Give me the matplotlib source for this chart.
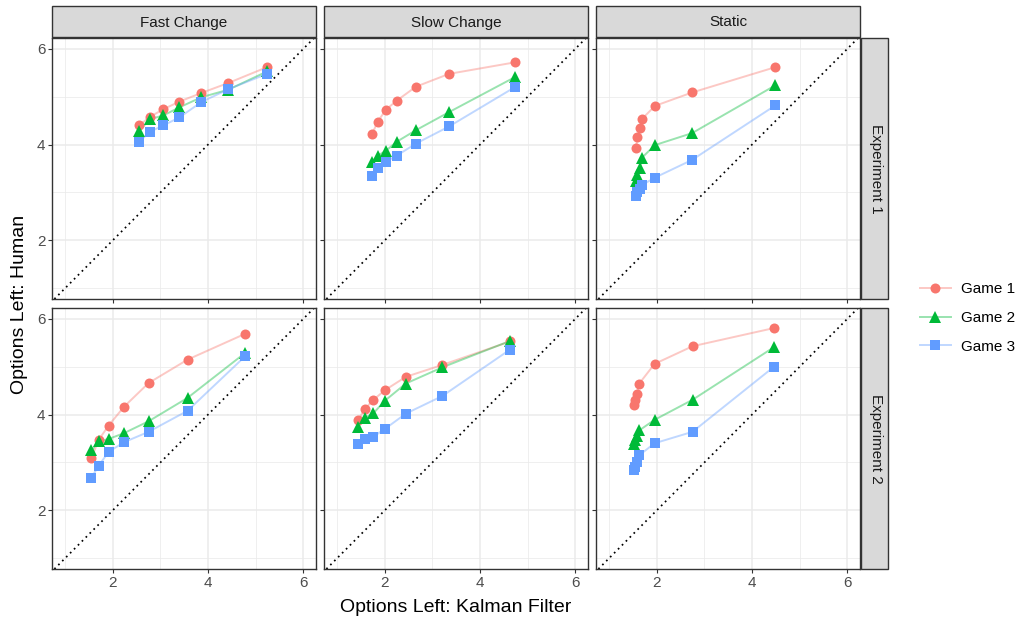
import matplotlib
matplotlib.use("Agg")
import matplotlib.pyplot as plt
from matplotlib.lines import Line2D
from matplotlib.patches import Rectangle

plt.rcParams['font.family'] = ['Liberation Sans', 'DejaVu Sans']

# ---------------- data ----------------
conditions = ["Fast Change", "Slow Change", "Static"]
experiments = ["Experiment 1", "Experiment 2"]
games = ["Game 1", "Game 2", "Game 3"]

fast_exp1_x = [2.55, 2.78, 3.06, 3.40, 3.86, 4.43, 5.24]
fast_exp1_g1 = [4.40, 4.58, 4.74, 4.90, 5.08, 5.29, 5.62]
fast_exp1_g2 = [4.29, 4.53, 4.61, 4.78, 4.99, 5.15, 5.53]
fast_exp1_g3 = [4.06, 4.27, 4.40, 4.57, 4.89, 5.16, 5.48]

slow_exp1_x = [1.73, 1.85, 2.02, 2.25, 2.65, 3.35, 4.73]
slow_exp1_g1 = [4.22, 4.48, 4.73, 4.92, 5.21, 5.48, 5.72]
slow_exp1_g2 = [3.64, 3.77, 3.87, 4.06, 4.30, 4.68, 5.41]
slow_exp1_g3 = [3.35, 3.52, 3.64, 3.77, 4.02, 4.38, 5.20]

static_exp1_x = [1.56, 1.59, 1.65, 1.68, 1.96, 2.74, 4.49]
static_exp1_g1 = [3.92, 4.15, 4.34, 4.53, 4.81, 5.09, 5.62]
static_exp1_g2 = [3.23, 3.36, 3.51, 3.72, 3.99, 4.24, 5.24]
static_exp1_g3 = [2.93, 3.00, 3.07, 3.15, 3.31, 3.68, 4.82]

fast_exp2_x = [1.55, 1.70, 1.91, 2.23, 2.75, 3.57, 4.78]
fast_exp2_g1 = [3.09, 3.47, 3.77, 4.16, 4.66, 5.15, 5.69]
fast_exp2_g2 = [3.25, 3.44, 3.49, 3.61, 3.86, 4.35, 5.29]
fast_exp2_g3 = [2.68, 2.93, 3.22, 3.42, 3.64, 4.08, 5.22]

slow_exp2_x = [1.44, 1.58, 1.76, 2.00, 2.44, 3.21, 4.63]
slow_exp2_g1 = [3.89, 4.12, 4.31, 4.51, 4.79, 5.04, 5.53]
slow_exp2_g2 = [3.74, 3.93, 4.03, 4.29, 4.65, 4.99, 5.54]
slow_exp2_g3 = [3.38, 3.49, 3.54, 3.70, 4.02, 4.39, 5.36]

static_exp2_x = [1.51, 1.54, 1.58, 1.63, 1.95, 2.75, 4.46]
static_exp2_g1 = [4.20, 4.30, 4.44, 4.65, 5.06, 5.43, 5.81]
static_exp2_g2 = [3.38, 3.46, 3.56, 3.67, 3.89, 4.31, 5.41]
static_exp2_g3 = [2.84, 2.91, 3.01, 3.15, 3.40, 3.64, 5.00]

panels = {
    (0, 0): (fast_exp1_x, [fast_exp1_g1, fast_exp1_g2, fast_exp1_g3]),
    (0, 1): (slow_exp1_x, [slow_exp1_g1, slow_exp1_g2, slow_exp1_g3]),
    (0, 2): (static_exp1_x, [static_exp1_g1, static_exp1_g2, static_exp1_g3]),
    (1, 0): (fast_exp2_x, [fast_exp2_g1, fast_exp2_g2, fast_exp2_g3]),
    (1, 1): (slow_exp2_x, [slow_exp2_g1, slow_exp2_g2, slow_exp2_g3]),
    (1, 2): (static_exp2_x, [static_exp2_g1, static_exp2_g2, static_exp2_g3]),
}

colors = ["#F8766D", "#00BA38", "#619CFF"]
markers = ["o", "^", "s"]
msizes = [7.2, 8.2, 7.0]

# ---------------- layout ----------------
W, H = 1022, 623
fig = plt.figure(figsize=(W / 100, H / 100), dpi=100)

col_left = [52, 324, 596]
pw = 264
row_top = [38, 308]
ph = 261

border = "#333333"
grid_major = "#EBEBEB"
tick_col = "#4D4D4D"

def rect(x0, y0, w, h):
    return [x0 / W, 1 - (y0 + h) / H, w / W, h / H]

for (r, c), (xs, ys_list) in panels.items():
    ax = fig.add_axes(rect(col_left[c], row_top[r], pw, ph))
    ax.set_xlim(0.72, 6.27)
    ax.set_ylim(0.77, 6.23)
    ax.set_xticks([2, 4, 6])
    ax.set_yticks([2, 4, 6])
    ax.set_xticks([1, 3, 5], minor=True)
    ax.set_yticks([1, 3, 5], minor=True)
    ax.grid(which="major", color=grid_major, lw=1.1, zorder=0)
    ax.grid(which="minor", color=grid_major, lw=0.55, zorder=0)
    ax.set_axisbelow(True)
    for s in ax.spines.values():
        s.set_color(border)
        s.set_linewidth(1.0)
    ax.tick_params(which="major", length=2.7, width=0.8, color=border,
                   labelsize=11, labelcolor=tick_col, pad=2)
    ax.tick_params(which="minor", length=0)
    if c != 0:
        ax.tick_params(axis="y", labelleft=False)
    if r != 1:
        ax.tick_params(axis="x", labelbottom=False)

    ax.axline((1, 1), slope=1, color="black", lw=1.25,
              linestyle=(0, (1, 2.2)), zorder=1)

    for gi, ys in enumerate(ys_list):
        ax.plot(xs, ys, color=colors[gi], alpha=0.4, lw=1.4, zorder=2)
    for gi, ys in enumerate(ys_list):
        ax.plot(xs, ys, linestyle="none", marker=markers[gi],
                markersize=msizes[gi], color=colors[gi],
                markeredgewidth=0, zorder=3 + gi)

# strips
strip_fill = "#D9D9D9"
for c, name in enumerate(conditions):
    x0 = col_left[c]
    fig.patches.append(Rectangle((x0 / W, 1 - 37 / H), pw / W, 31 / H,
                                 transform=fig.transFigure, facecolor=strip_fill,
                                 edgecolor=border, lw=1.0))
    fig.text((x0 + pw / 2) / W, 1 - 22.5 / H, name, ha="center", va="center",
             fontsize=11, color="#1A1A1A")
for r, name in enumerate(experiments):
    y0 = row_top[r]
    fig.patches.append(Rectangle((861 / W, 1 - (y0 + ph) / H), 27 / W, ph / H,
                                 transform=fig.transFigure, facecolor=strip_fill,
                                 edgecolor=border, lw=1.0))
    fig.text(875.5 / W, 1 - (y0 + ph / 2) / H, name, ha="center", va="center",
             fontsize=11, color="#1A1A1A", rotation=-90)

# axis titles
fig.text(456 / W, 1 - 607 / H, "Options Left: Kalman Filter", ha="center",
         va="center", fontsize=14)
fig.text(20 / W, 1 - 304 / H, "Options Left: Human", ha="center",
         va="center", fontsize=14, rotation=90)

# legend
handles = []
for gi in range(3):
    h = (Line2D([], [], color=colors[gi], alpha=0.4, lw=1.4),
         Line2D([], [], linestyle="none", marker=markers[gi],
                markersize=msizes[gi], color=colors[gi], markeredgewidth=0))
    handles.append(h)
fig.legend(handles, games, loc="center left",
           bbox_to_anchor=(920 / W, 1 - 318 / H), frameon=False,
           fontsize=11, handlelength=2.0, handletextpad=0.7,
           labelspacing=0.95, borderaxespad=0, borderpad=0)

fig.savefig("out.png", dpi=100)
